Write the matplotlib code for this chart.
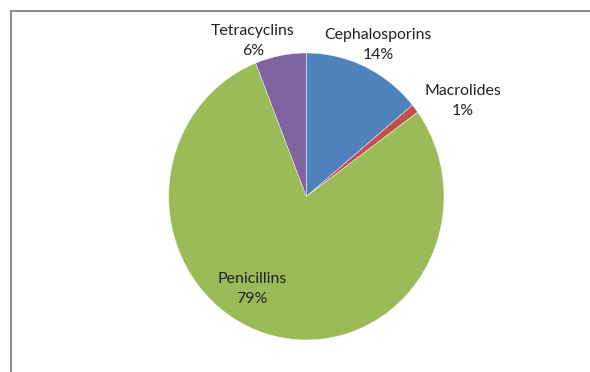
"""Antibiotic class share pie chart."""
import matplotlib
matplotlib.use("Agg")
from matplotlib import pyplot as plt
from matplotlib.lines import Line2D

# Share of prescriptions by antibiotic class (percent), clockwise from 12 o'clock.
classes = ["Cephalosporins", "Macrolides", "Penicillins", "Tetracyclins"]
shares = [14, 1, 79, 6]
colors = ["#4F81BD", "#C0504D", "#9BBB59", "#8064A2"]

# Label centres in pixels (x, y from top) for each class.
label_pos = {
    "Cephalosporins": (378, 45),
    "Macrolides": (463, 101),
    "Penicillins": (252, 289),
    "Tetracyclins": (253, 41),
}

W, H = 590, 372


def main():
    plt.rcParams["font.family"] = ["Lato", "DejaVu Sans"]
    fig = plt.figure(figsize=(W / 100, H / 100), dpi=100)
    fig.patch.set_facecolor("white")

    # Pie area, slightly taller than wide.
    left, right, top, bottom = 168.7, 444.0, 53.0, 340.0
    ax = fig.add_axes([left / W, 1 - bottom / H, (right - left) / W, (bottom - top) / H])
    ax.pie(shares, colors=colors, startangle=90, counterclock=False,
           radius=1.0, wedgeprops={"edgecolor": "white", "linewidth": 0.3})
    ax.set_aspect("auto")
    ax.set_xlim(-1, 1)
    ax.set_ylim(-1, 1)
    ax.axis("off")

    for name, val in zip(classes, shares):
        px, py = label_pos[name]
        fig.text(px / W, 1 - py / H, "%s\n%d%%" % (name, val),
                 ha="center", va="center", fontsize=11.4, color="#222222",
                 linespacing=1.5)

    # Chart frame (top and left edges visible)
    frame_kw = dict(color="#8a8a8a", linewidth=1.4, transform=fig.transFigure)
    fig.add_artist(Line2D([10.5 / W, 1], [1 - 11 / H, 1 - 11 / H], **frame_kw))
    fig.add_artist(Line2D([10.5 / W, 10.5 / W], [0, 1 - 11 / H], **frame_kw))

    fig.savefig("out.png", dpi=100)


if __name__ == "__main__":
    main()
